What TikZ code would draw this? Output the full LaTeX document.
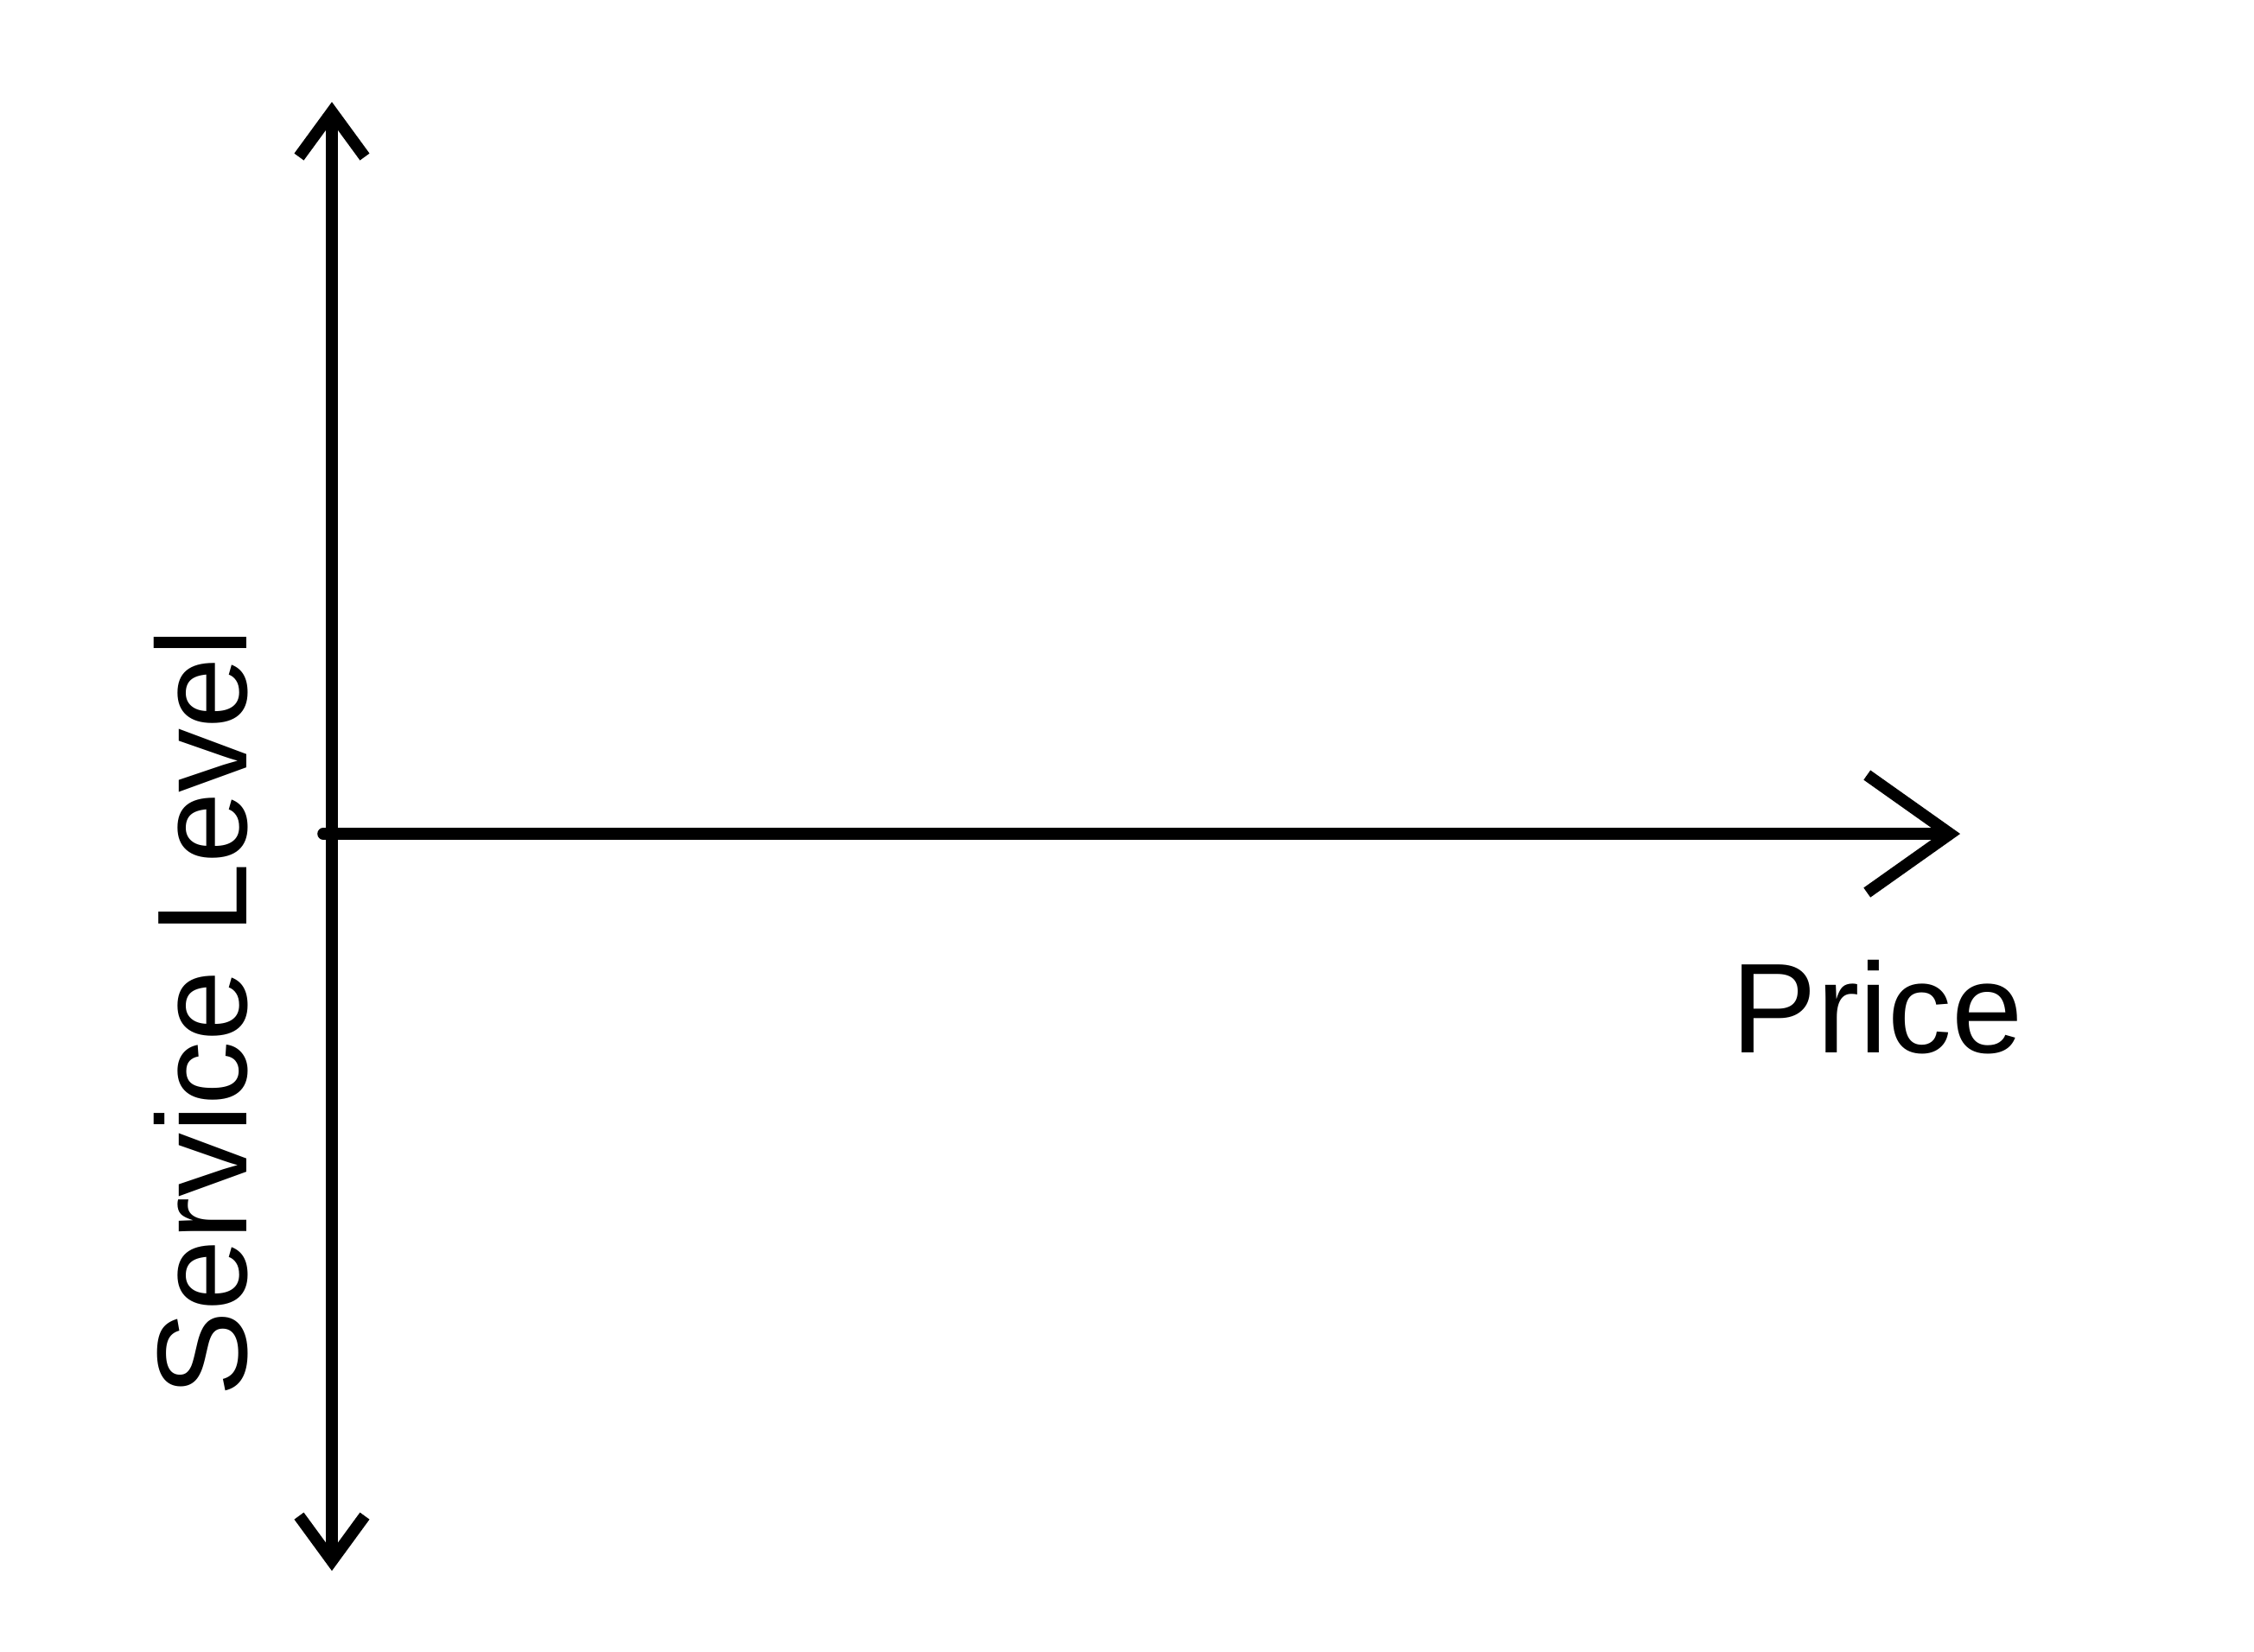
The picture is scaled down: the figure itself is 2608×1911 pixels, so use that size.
\documentclass[tikz,border=0pt]{standalone}
\usepackage{fontspec}
\setmainfont{Liberation Sans}
\usetikzlibrary{arrows.meta}
\begin{document}
\begin{tikzpicture}[x=0.25pt,y=-0.25pt,
  axis/.style={line width=3.4pt,line cap=round,line join=round,draw=black},
  lbl/.style={font=\fontsize{37}{40}\selectfont,inner sep=0pt}]
\useasboundingbox (0,0) rectangle (2608,1911);
\coordinate (top) at (384,118);
\coordinate (bot) at (384,1818);
\coordinate (orig) at (374,965);
\coordinate (right) at (2268,965);
\draw[axis,{Straight Barb[length=13pt,width=19pt,line width=3.4pt]}-{Straight Barb[length=13pt,width=19pt,line width=3.4pt]}] (bot) -- (top);
\draw[axis,-{Straight Barb[length=24pt,width=34pt,line width=3.4pt]}] (orig) -- (right);
\node[lbl] (price) at (2172,1166) {Price};
\node[lbl,rotate=90] (service) at (233,1172) {Service Level};
\end{tikzpicture}
\end{document}
